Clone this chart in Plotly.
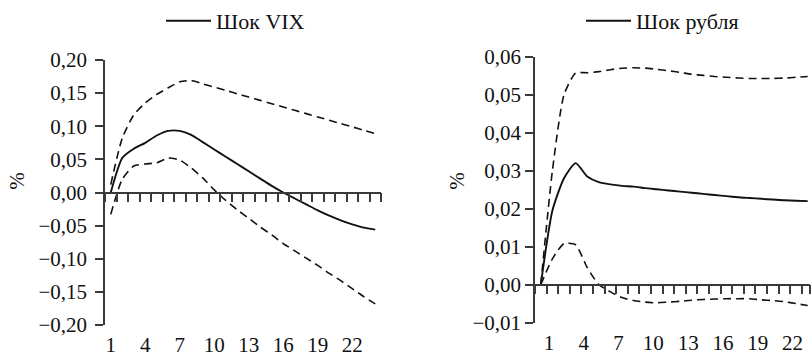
import plotly.graph_objects as go

W, H = 812, 357

periods = list(range(1, 25))

vix_irf = [0.000, 0.052, 0.066, 0.075, 0.086, 0.093, 0.093, 0.087, 0.076, 0.065,
           0.054, 0.043, 0.032, 0.021, 0.010, 0.000, -0.009, -0.018, -0.027, -0.035,
           -0.042, -0.048, -0.053, -0.056]
vix_upper = [0.012, 0.082, 0.117, 0.135, 0.148, 0.158, 0.167, 0.169, 0.164, 0.159,
             0.154, 0.149, 0.144, 0.139, 0.134, 0.129, 0.124, 0.119, 0.114, 0.109,
             0.104, 0.099, 0.094, 0.089]
vix_lower = [-0.033, 0.020, 0.040, 0.043, 0.045, 0.052, 0.049, 0.037, 0.022, 0.004,
             -0.012, -0.026, -0.039, -0.052, -0.064, -0.077, -0.088, -0.099, -0.110, -0.122,
             -0.133, -0.145, -0.157, -0.168]

rub_irf = [0.000, 0.0195, 0.028, 0.032, 0.0285, 0.027, 0.0264, 0.026, 0.0258, 0.0254,
           0.0251, 0.0248, 0.0245, 0.0242, 0.0239, 0.0236, 0.0233, 0.0230, 0.0228, 0.0226,
           0.0224, 0.0222, 0.0221, 0.0220]
rub_upper = [0.000, 0.030, 0.050, 0.0557, 0.0558, 0.0561, 0.0566, 0.0570, 0.0571, 0.0570,
             0.0567, 0.0563, 0.0559, 0.0554, 0.0551, 0.0548, 0.0546, 0.0544, 0.0543, 0.0543,
             0.0543, 0.0544, 0.0546, 0.0548]
rub_lower = [0.000, 0.0068, 0.0108, 0.0105, 0.0045, 0.0000, -0.0019, -0.0034, -0.0042, -0.0046,
             -0.0048, -0.0046, -0.0044, -0.0041, -0.0039, -0.0038, -0.0037, -0.0037, -0.0037, -0.0040,
             -0.0042, -0.0045, -0.0050, -0.0055]

x_label_vals = [1, 4, 7, 10, 13, 16, 19, 22]
x_label_text = ["1", "4", "7", "10", "13", "16", "19", "22"]

vix_yticks = [0.20, 0.15, 0.10, 0.05, 0.00, -0.05, -0.10, -0.15, -0.20]
vix_yticktext = ["0,20", "0,15", "0,10", "0,05", "0,00", "−0,05", "−0,10", "−0,15", "−0,20"]
rub_yticks = [0.06, 0.05, 0.04, 0.03, 0.02, 0.01, 0.00, -0.01]
rub_yticktext = ["0,06", "0,05", "0,04", "0,03", "0,02", "0,01", "0,00", "−0,01"]

legend_left = "Шок VIX"
legend_right = "Шок рубля"
y_title = "%"

FONT = "Liberation Serif"
FS = 21
AX = "#3a3a3a"
LC = "#111111"

# panel geometry (pixels)
L_x0, L_x1, L_ytop, L_ybot = 105, 381, 51.7, 337.7
R_x0, R_x1, R_ytop, R_ybot = 535, 810, 48.3, 335.0
L_range = [-0.2, 0.2]
R_range = [-0.01, 0.06]
L_xr = [0.5, 24.5]
R_xr = [0.5, 24.2]
L_label_shift = 0.0
R_label_shift = 0.7   # labels in the right panel sit slightly right of the data points

def xd(a, b):
    return [a / W, b / W]

def yd(top, bot):
    return [1 - bot / H, 1 - top / H]

Ly = yd(L_ytop, L_ybot)
Ry = yd(R_ytop, R_ybot)
L_zero = Ly[0] + (0 - L_range[0]) / (L_range[1] - L_range[0]) * (Ly[1] - Ly[0])
R_zero = Ry[0] + (0 - R_range[0]) / (R_range[1] - R_range[0]) * (Ry[1] - Ry[0])

fig = go.Figure()

def add_panel(irf, up, lo, name, xa, ya, legend):
    fig.add_trace(go.Scatter(x=periods, y=up, mode="lines", xaxis=xa, yaxis=ya,
                             line=dict(color=LC, width=1.6, dash="8px,5px", shape="spline", smoothing=0.6),
                             showlegend=False))
    fig.add_trace(go.Scatter(x=periods, y=lo, mode="lines", xaxis=xa, yaxis=ya,
                             line=dict(color=LC, width=1.6, dash="8px,5px", shape="spline", smoothing=0.6),
                             showlegend=False))
    fig.add_trace(go.Scatter(x=periods, y=irf, mode="lines", xaxis=xa, yaxis=ya, name=name,
                             line=dict(color=LC, width=1.9, shape="spline", smoothing=0.6),
                             showlegend=True, legend=legend))

add_panel(vix_irf, vix_upper, vix_lower, legend_left, "x", "y", "legend")
add_panel(rub_irf, rub_upper, rub_lower, legend_right, "x2", "y2", "legend2")

tickfont = dict(family=FONT, size=FS, color="#111")

def label_axis(dom, xr, anchor, shift):
    return dict(domain=dom, range=xr, anchor=anchor, showline=False, showgrid=False, zeroline=False,
                ticks="", tickmode="array", tickvals=[v + shift for v in x_label_vals],
                ticktext=x_label_text, tickfont=tickfont, ticklabelstandoff=5, fixedrange=True)

def zero_axis(over, xr, pos):
    tv = [v + 0.5 for v in range(0, 24)]
    tv = [t for t in tv if t <= xr[1]] + ([xr[1]] if xr[1] not in tv else [])
    return dict(overlaying=over, anchor="free", position=pos, range=xr, showline=True,
                linecolor=AX, linewidth=1.5, ticks="outside", ticklen=9, tickwidth=1.5,
                tickcolor=AX, tickmode="array", tickvals=tv, showticklabels=False,
                showgrid=False, zeroline=False, fixedrange=True)

def y_axis(dom, yr, tv, tt, anchor, standoff):
    return dict(domain=dom, range=yr, anchor=anchor, showline=True, linecolor=AX, linewidth=1.5,
                ticks="outside", ticklen=8, tickwidth=1.5, tickcolor=AX, tickmode="array",
                tickvals=tv, ticktext=tt, tickfont=tickfont, showgrid=False, zeroline=False,
                ticklabelstandoff=standoff, fixedrange=True)

fig.update_layout(
    width=W, height=H, margin=dict(l=0, r=0, t=0, b=0),
    paper_bgcolor="white", plot_bgcolor="white",
    font=dict(family=FONT, size=FS, color="#111"),
    xaxis=label_axis(xd(L_x0, L_x1), L_xr, "y", L_label_shift),
    xaxis2=label_axis(xd(R_x0, R_x1), R_xr, "y2", R_label_shift),
    xaxis3=zero_axis("x", L_xr, L_zero),
    xaxis4=zero_axis("x2", R_xr, R_zero),
    yaxis=y_axis(Ly, L_range, vix_yticks, vix_yticktext, "x", 4),
    yaxis2=y_axis(Ry, R_range, rub_yticks, rub_yticktext, "x2", 0),
    legend=dict(x=161 / W, y=1 + 13 / H, xanchor="left", yanchor="top", bgcolor="rgba(0,0,0,0)",
                font=dict(family=FONT, size=22, color="#111"), itemwidth=45, borderwidth=0),
    legend2=dict(x=581 / W, y=1 + 13 / H, xanchor="left", yanchor="top", bgcolor="rgba(0,0,0,0)",
                 font=dict(family=FONT, size=22, color="#111"), itemwidth=45, borderwidth=0),
    annotations=[
        dict(text=y_title, x=17 / W, y=1 - 182 / H, xref="paper", yref="paper", showarrow=False,
             xanchor="center", yanchor="middle", textangle=-90,
             font=dict(family=FONT, size=FS, color="#111")),
        dict(text=y_title, x=457 / W, y=1 - 182 / H, xref="paper", yref="paper", showarrow=False,
             xanchor="center", yanchor="middle", textangle=-90,
             font=dict(family=FONT, size=FS, color="#111")),
    ],
)

# invisible traces so the zero-line axes are drawn
fig.add_trace(go.Scatter(x=[None], y=[None], xaxis="x3", yaxis="y", showlegend=False, hoverinfo="skip"))
fig.add_trace(go.Scatter(x=[None], y=[None], xaxis="x4", yaxis="y2", showlegend=False, hoverinfo="skip"))

fig.write_html("out.html")
